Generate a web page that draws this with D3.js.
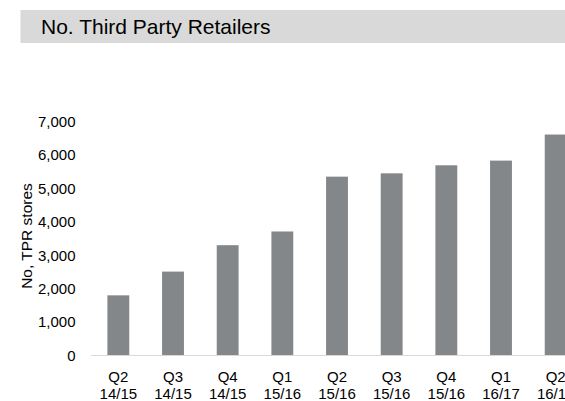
<!DOCTYPE html>
<html>
<head>
<meta charset="utf-8">
<script src="https://cdn.jsdelivr.net/npm/d3@7"></script>
<style>
  html, body { margin: 0; padding: 0; background: #fff; }
  svg { display: block; font-family: "Liberation Sans", Arial, sans-serif; }
</style>
</head>
<body>
<svg id="chart" width="565" height="401"></svg>
<script>
// Quarter labels (two lines each) and TPR store counts
const quarters = ["Q2", "Q3", "Q4", "Q1", "Q2", "Q3", "Q4", "Q1", "Q2"];
const years = ["14/15", "14/15", "14/15", "15/16", "15/16", "15/16", "15/16", "16/17", "16/17"];
const stores = [1800, 2510, 3300, 3710, 5350, 5450, 5690, 5830, 6610];
const yTicks = [0, 1000, 2000, 3000, 4000, 5000, 6000, 7000];

const title = "No. Third Party Retailers";
const yTitle = "No, TPR stores";

const svg = d3.select("#chart");

// Header band
svg.append("rect")
  .attr("x", 20.5).attr("y", 10)
  .attr("width", 565 - 20.5).attr("height", 33)
  .attr("fill", "#d9d9d9");
svg.append("text")
  .attr("x", 41).attr("y", 34)
  .attr("font-size", 21)
  .attr("fill", "#000")
  .text(title);

const ids = quarters.map((q, i) => i);

const x = d3.scaleBand()
  .domain(ids)
  .range([91, 583])
  .paddingInner(0.6)
  .paddingOuter(0.3);

const y = d3.scaleLinear()
  .domain([0, 7000])
  .range([355.5, 121.5]);

// Bars
svg.append("g")
  .selectAll("rect")
  .data(stores)
  .join("rect")
  .attr("x", (d, i) => x(i))
  .attr("width", x.bandwidth())
  .attr("y", d => y(d))
  .attr("height", d => y(0) - y(d))
  .attr("fill", "#84878a");

// Baseline
svg.append("line")
  .attr("x1", 91).attr("x2", 565)
  .attr("y1", y(0)).attr("y2", y(0))
  .attr("stroke", "#d9d9d9")
  .attr("stroke-width", 1);

// Y axis labels
const fmt = d3.format(",");
const yAxis = d3.axisLeft(y)
  .tickValues(yTicks)
  .tickFormat(fmt)
  .tickSize(0)
  .tickPadding(0);
const gy = svg.append("g")
  .attr("transform", "translate(75.5,0)")
  .call(yAxis);
gy.select(".domain").remove();
gy.selectAll("text")
  .attr("font-size", 15)
  .attr("font-family", "Liberation Sans, Arial, sans-serif")
  .attr("fill", "#000");

// Y axis title
svg.append("text")
  .attr("transform", "translate(31.5,236) rotate(-90)")
  .attr("text-anchor", "middle")
  .attr("font-size", 15.5)
  .attr("fill", "#000")
  .text(yTitle);

// X axis labels
const xAxis = d3.axisBottom(x).tickSize(0).tickFormat(() => "");
const gx = svg.append("g")
  .attr("transform", `translate(0,${y(0)})`)
  .call(xAxis);
gx.select(".domain").remove();
gx.selectAll(".tick text").remove();
gx.selectAll(".tick").each(function(i) {
  const t = d3.select(this).append("text")
    .attr("text-anchor", "middle")
    .attr("font-size", 15)
    .attr("fill", "#000");
  t.append("tspan").attr("x", 0).attr("y", 26.5).text(quarters[i]);
  t.append("tspan").attr("x", 0).attr("y", 43.5).text(years[i]);
});
</script>
</body>
</html>
